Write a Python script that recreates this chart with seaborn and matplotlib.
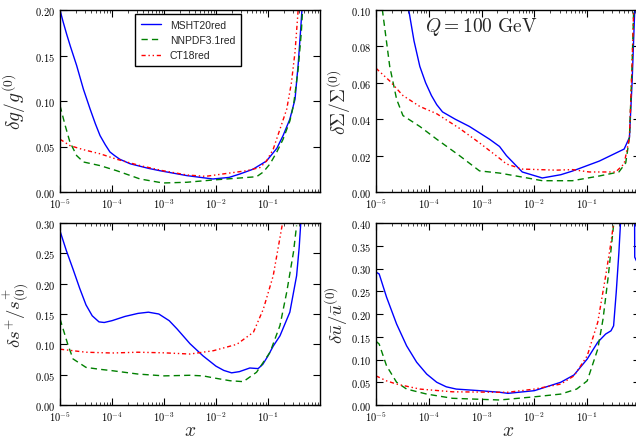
import numpy as np
import pandas as pd
import matplotlib
matplotlib.use("Agg")
import matplotlib.pyplot as plt
from matplotlib.ticker import FuncFormatter, FixedLocator, LogLocator, NullFormatter
import seaborn as sns

# ---------------- data (log10 x, relative uncertainty) ----------------
# gluon
g_msht_lx = [-5.0, -4.94, -4.87, -4.8, -4.68, -4.55, -4.42, -4.32, -4.23, -4.13, -4.04, -3.95, -3.85, -3.65, -3.3, -3.08, -2.56, -2.06, -1.75, -1.54, -1.29, -1.03, -0.83, -0.71, -0.58, -0.48, -0.42, -0.37, -0.33]
g_msht    = [0.200, 0.187, 0.173, 0.160, 0.139, 0.113, 0.091, 0.075, 0.062, 0.052, 0.044, 0.040, 0.036, 0.031, 0.026, 0.0234, 0.018, 0.0143, 0.0160, 0.0198, 0.025, 0.034, 0.048, 0.062, 0.080, 0.102, 0.140, 0.180, 0.215]
g_nnpdf_lx = [-5.0, -4.9, -4.81, -4.68, -4.55, -4.23, -3.91, -3.46, -3.02, -2.56, -2.06, -1.54, -1.22, -1.09, -0.96, -0.83, -0.71, -0.58, -0.51, -0.42, -0.36, -0.32]
g_nnpdf    = [0.095, 0.073, 0.055, 0.040, 0.033, 0.029, 0.0234, 0.0143, 0.0099, 0.0107, 0.0132, 0.0154, 0.0168, 0.022, 0.031, 0.044, 0.058, 0.078, 0.095, 0.135, 0.175, 0.215]
g_ct18_lx = [-5.0, -4.81, -4.55, -4.23, -3.91, -3.46, -3.02, -2.56, -2.2, -1.73, -1.41, -1.15, -1.03, -0.9, -0.77, -0.64, -0.55, -0.48, -0.42, -0.39]
g_ct18    = [0.058, 0.051, 0.0465, 0.042, 0.036, 0.029, 0.0234, 0.0187, 0.0172, 0.0209, 0.0234, 0.027, 0.034, 0.047, 0.069, 0.091, 0.120, 0.154, 0.200, 0.220]

# singlet
S_msht_lx = [-4.45, -4.38, -4.28, -4.17, -4.06, -3.95, -3.85, -3.74, -3.62, -3.5, -3.23, -2.85, -2.66, -2.53, -2.23, -1.85, -1.5, -1.28, -0.77, -0.3, -0.2, -0.15, -0.1, -0.07]
S_msht    = [0.115, 0.100, 0.083, 0.069, 0.060, 0.053, 0.048, 0.044, 0.042, 0.040, 0.036, 0.029, 0.025, 0.020, 0.011, 0.0077, 0.0095, 0.0115, 0.017, 0.0236, 0.030, 0.060, 0.100, 0.130]
S_nnpdf_lx = [-4.92, -4.87, -4.74, -4.61, -4.49, -4.17, -3.85, -3.42, -3.04, -2.66, -2.23, -1.85, -1.28, -0.77, -0.4, -0.27, -0.2, -0.15, -0.12, -0.1]
S_nnpdf    = [0.110, 0.098, 0.069, 0.051, 0.042, 0.036, 0.029, 0.020, 0.0116, 0.0104, 0.0082, 0.0062, 0.0062, 0.0088, 0.011, 0.016, 0.030, 0.070, 0.100, 0.120]
S_ct18_lx = [-5.0, -4.74, -4.49, -4.17, -3.85, -3.42, -3.04, -2.66, -2.53, -2.23, -1.59, -1.28, -0.96, -0.46, -0.3, -0.2, -0.15, -0.11]
S_ct18    = [0.068, 0.061, 0.053, 0.047, 0.043, 0.035, 0.027, 0.0185, 0.0154, 0.0126, 0.012, 0.0123, 0.011, 0.011, 0.0155, 0.030, 0.070, 0.110]

# strange
s_msht_lx = [-5.0, -4.88, -4.75, -4.62, -4.5, -4.38, -4.25, -4.15, -4.0, -3.75, -3.5, -3.3, -3.1, -2.9, -2.75, -2.5, -2.25, -2.0, -1.85, -1.7, -1.55, -1.35, -1.19, -1.1, -1.0, -0.9, -0.77, -0.58, -0.45, -0.4, -0.37]
s_msht    = [0.287, 0.255, 0.224, 0.192, 0.165, 0.147, 0.137, 0.136, 0.139, 0.146, 0.151, 0.153, 0.150, 0.139, 0.1255, 0.101, 0.081, 0.064, 0.057, 0.053, 0.055, 0.061, 0.060, 0.067, 0.081, 0.097, 0.114, 0.153, 0.213, 0.260, 0.300]
s_nnpdf_lx = [-5.0, -4.85, -4.75, -4.5, -4.25, -4.0, -3.5, -3.0, -2.5, -2.25, -2.0, -1.73, -1.475, -1.22, -0.96, -0.77, -0.64, -0.51, -0.45]
s_nnpdf    = [0.142, 0.100, 0.076, 0.062, 0.059, 0.0566, 0.051, 0.048, 0.049, 0.048, 0.044, 0.040, 0.0385, 0.054, 0.087, 0.131, 0.186, 0.252, 0.296]
s_ct18_lx = [-5.0, -4.5, -4.0, -3.5, -3.0, -2.5, -2.05, -1.6, -1.28, -1.09, -0.9, -0.72]
s_ct18    = [0.092, 0.087, 0.0857, 0.087, 0.086, 0.084, 0.0895, 0.100, 0.120, 0.158, 0.213, 0.300]

# anti-up
u_msht_lx = [-5.0, -4.94, -4.8, -4.61, -4.42, -4.23, -4.04, -3.85, -3.67, -3.48, -3.04, -2.66, -2.5, -2.0, -1.5, -1.25, -1.0, -0.8, -0.65, -0.55, -0.5, -0.45, -0.4, -0.36, -0.105, -0.1, 0.0]
u_msht    = [0.292, 0.288, 0.237, 0.178, 0.130, 0.094, 0.068, 0.050, 0.040, 0.035, 0.0315, 0.028, 0.0256, 0.0315, 0.050, 0.066, 0.101, 0.138, 0.156, 0.163, 0.174, 0.248, 0.335, 0.420, 0.500, 0.325, 0.300]
u_nnpdf_lx = [-5.0, -4.94, -4.8, -4.61, -4.42, -4.04, -3.55, -2.66, -2.0, -1.5, -1.2, -1.0, -0.8, -0.7, -0.6, -0.5]
u_nnpdf    = [0.140, 0.134, 0.086, 0.050, 0.035, 0.024, 0.0147, 0.011, 0.018, 0.024, 0.035, 0.053, 0.123, 0.189, 0.284, 0.396]
u_ct18_lx = [-5.0, -4.8, -4.61, -4.17, -3.55, -2.66, -2.5, -2.0, -1.5, -1.25, -1.0, -0.8, -0.65, -0.55, -0.5]
u_ct18    = [0.064, 0.053, 0.046, 0.035, 0.029, 0.028, 0.028, 0.035, 0.046, 0.064, 0.108, 0.182, 0.284, 0.357, 0.400]

set_names = ["MSHT20red", "NNPDF3.1red", "CT18red"]
x_tick_exps = [-5, -4, -3, -2, -1]

panels = [
    (g_msht_lx, g_msht, g_nnpdf_lx, g_nnpdf, g_ct18_lx, g_ct18),
    (S_msht_lx, S_msht, S_nnpdf_lx, S_nnpdf, S_ct18_lx, S_ct18),
    (s_msht_lx, s_msht, s_nnpdf_lx, s_nnpdf, s_ct18_lx, s_ct18),
    (u_msht_lx, u_msht, u_nnpdf_lx, u_nnpdf, u_ct18_lx, u_ct18),
]
ylabels = [r"$\delta g/g^{(0)}$", r"$\delta\Sigma/\Sigma^{(0)}$",
           r"$\delta s^{+}/s^{+}_{(0)}$", r"$\delta\bar{u}/\bar{u}^{(0)}$"]
ylims = [0.20, 0.10, 0.30, 0.40]
ysteps = [0.05, 0.02, 0.05, 0.05]

# ---------------- style ----------------
sns.set_style("ticks")
plt.rcParams["font.family"] = ["DejaVu Sans"]
plt.rcParams["mathtext.fontset"] = "cm"
plt.rcParams["axes.linewidth"] = 1.0

styles = {
    "MSHT20red": dict(color="#0000ff", linestyle="-"),
    "NNPDF3.1red": dict(color="#008000", linestyle=(0, (4.5, 3))),
    "CT18red": dict(color="#ff0000", linestyle=(0, (3, 2, 1, 2, 1, 2))),
}

W, H = 636, 439
fig = plt.figure(figsize=(W / 100, H / 100), dpi=100)
rects = [
    (60, 11, 260, 182), (376, 11, 264, 182),
    (60, 224, 260, 182), (376, 224, 264, 182),
]
axes = []
for (l, t, w, h) in rects:
    axes.append(fig.add_axes([l / W, 1 - (t + h) / H, w / W, h / H]))

ylabel_x = [-0.125, -0.088, -0.115, -0.097]
ylabel_fs = [14, 14, 13.5, 13.5]

for i, ax in enumerate(axes):
    data = panels[i]
    for k, name in enumerate(set_names):
        lx = np.array(data[2 * k], dtype=float)
        yv = np.array(data[2 * k + 1], dtype=float)
        df = pd.DataFrame({"x": 10.0 ** lx, "y": yv})
        sns.lineplot(data=df, x="x", y="y", ax=ax, sort=False, lw=1.0,
                     label=name if i == 0 else None, legend=(i == 0),
                     **styles[name])
    ax.set_xscale("log")
    ax.set_xlim(1e-5, 1.0)
    ax.set_ylim(0, ylims[i])
    ax.xaxis.set_major_locator(FixedLocator([10.0 ** e for e in x_tick_exps]))
    ax.xaxis.set_minor_locator(LogLocator(base=10, subs=np.arange(2, 10), numticks=20))
    ax.xaxis.set_minor_formatter(NullFormatter())
    ax.xaxis.set_major_formatter(FuncFormatter(lambda v, p: r"$10^{%d}$" % int(round(np.log10(v)))))
    yt = np.arange(0, ylims[i] + 1e-9, ysteps[i])
    ax.set_yticks(yt)
    ax.yaxis.set_major_formatter(FuncFormatter(lambda v, p: r"$%.2f$" % v))
    ax.tick_params(axis="both", which="major", direction="in", length=5, width=0.8,
                   top=True, right=True, labelsize=7.5, pad=3.5, colors="black")
    ax.tick_params(axis="x", which="minor", direction="in", length=2.5, width=0.6,
                   top=True, bottom=True)
    ax.tick_params(axis="y", which="minor", left=False, right=False)
    ax.set_ylabel(ylabels[i], fontsize=ylabel_fs[i])
    ax.yaxis.set_label_coords(ylabel_x[i], 0.5)
    if i >= 2:
        ax.set_xlabel(r"$x$", fontsize=14)
        ax.xaxis.set_label_coords(0.5, -0.085)
    else:
        ax.set_xlabel("")
    for sp in ax.spines.values():
        sp.set_visible(True)
        sp.set_linewidth(1.0)
        sp.set_color("black")

leg = axes[0].legend(loc="upper left", bbox_to_anchor=(0.29, 0.978), frameon=True,
                     fancybox=False, edgecolor="black", framealpha=1.0,
                     prop={"family": "Liberation Sans", "size": 7.5},
                     handlelength=1.9, handletextpad=0.85, borderpad=0.55,
                     labelspacing=0.5, borderaxespad=0.0)
leg.get_frame().set_linewidth(1.0)

axes[1].text(0.40, 0.91, r"$Q = 100\ \mathrm{GeV}$", transform=axes[1].transAxes,
             ha="center", va="center", fontsize=14)

fig.savefig("out.png", dpi=100)
